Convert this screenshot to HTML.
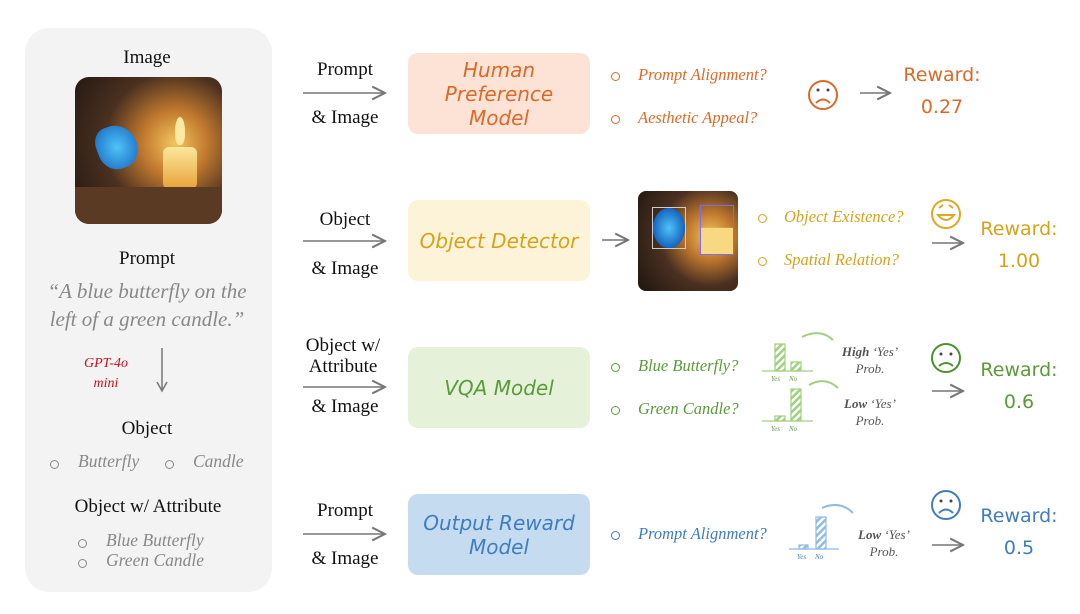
<!DOCTYPE html>
<html><head><meta charset="utf-8"><style>
body{margin:0;width:1080px;height:614px;background:#fff;position:relative;overflow:hidden;font-family:"Liberation Serif",serif}
.a{position:absolute;white-space:nowrap}
.c{transform:translateX(-50%)}
.panel{position:absolute;left:25px;top:28px;width:247px;height:564px;background:#f3f3f3;border-radius:24px}
.box{position:absolute;left:408px;width:182px;height:81px;border-radius:10px;display:flex;align-items:center;justify-content:center;text-align:center;font-family:"DejaVu Sans","Liberation Sans",sans-serif;font-style:italic;font-size:20px;line-height:24px}
.in{font-size:19px;color:#111}
.it{font-style:italic;font-size:16.5px}
.rw{font-family:"DejaVu Sans",sans-serif;font-size:19px}
.gray{color:#888;font-style:italic;font-size:18px}
.dot{position:absolute;width:7px;height:7px;border:1.3px solid currentColor;border-radius:50%}
</style></head><body>
<div class="panel"></div>
<div class="a c in" style="left:147px;top:47px">Image</div>
<div class="a" style="left:75px;top:77px;width:147px;height:147px;border-radius:14px;background:radial-gradient(circle at 68% 45%,#f3c560 0,#c27a2e 25%,#4a3020 55%,#1e1510 100%)">
 <div class="a" style="left:88px;top:70px;width:34px;height:42px;background:linear-gradient(#fbe79a,#e8a23a);border-radius:6px"></div>
 <div class="a" style="left:100px;top:40px;width:10px;height:28px;background:#ffe9a0;border-radius:50% 50% 40% 40%"></div>
 <div class="a" style="left:22px;top:48px;width:40px;height:44px;background:radial-gradient(#4fc3f7,#1565c0);border-radius:40% 60% 50% 50%;transform:rotate(-20deg)"></div>
 <div class="a" style="left:0;top:110px;width:147px;height:37px;background:#5a3a22;border-radius:0 0 14px 14px"></div>
</div>
<div class="a c in" style="left:147px;top:248px">Prompt</div>
<div class="a c gray" style="left:147px;top:279px;font-size:21px">“A blue butterfly on the</div>
<div class="a c gray" style="left:147px;top:307px;font-size:21px">left of a green candle.”</div>
<div class="a c" style="left:106px;top:354px;color:#c4121f;font-style:italic;font-size:14px;text-align:center;line-height:20px">GPT-4o<br>mini</div>
<svg class="a" style="left:155px;top:348px" width="14" height="46"><line x1="7" y1="0" x2="7" y2="42" stroke="#777" stroke-width="1.5"/><path d="M2 34 L7 43 L12 34" fill="none" stroke="#777" stroke-width="1.5"/></svg>
<div class="a c in" style="left:147px;top:418px">Object</div>
<div class="dot" style="left:50px;top:460px;color:#888"></div><div class="a gray" style="left:78px;top:451px;font-size:17.5px">Butterfly</div>
<div class="dot" style="left:165px;top:460px;color:#888"></div><div class="a gray" style="left:193px;top:451px;font-size:17.5px">Candle</div>
<div class="a c in" style="left:148px;top:496px">Object w/ Attribute</div>
<div class="dot" style="left:78px;top:539px;color:#888"></div><div class="a gray" style="left:106px;top:530px;font-size:17.5px">Blue Butterfly</div>
<div class="dot" style="left:78px;top:559px;color:#888"></div><div class="a gray" style="left:106px;top:550px;font-size:17.5px">Green Candle</div>

<svg class="a" style="left:0;top:0" width="1080" height="614">
<defs><marker id="m" markerWidth="10" markerHeight="10" refX="9" refY="5" orient="auto"><path d="M1 1 L9 5 L1 9" fill="none" stroke="#777" stroke-width="1.3"/></marker>
<pattern id="pg" width="5" height="5" patternUnits="userSpaceOnUse" patternTransform="rotate(45)"><rect width="2.5" height="5" fill="#9fd07f"/></pattern>
<pattern id="pb" width="5" height="5" patternUnits="userSpaceOnUse" patternTransform="rotate(45)"><rect width="2.5" height="5" fill="#8fbbe6"/></pattern></defs>
<g stroke="#777" stroke-width="1.6" marker-end="url(#m)">
<line x1="303" y1="93" x2="385" y2="93"/><line x1="303" y1="241" x2="385" y2="241"/><line x1="303" y1="387" x2="385" y2="387"/><line x1="303" y1="534" x2="385" y2="534"/>
<line x1="602" y1="240" x2="628" y2="240"/><line x1="860" y1="93" x2="890" y2="93"/><line x1="932" y1="243" x2="963" y2="243"/><line x1="932" y1="391" x2="963" y2="391"/><line x1="932" y1="545" x2="963" y2="545"/>
</g>
<g stroke="#9fd07f" stroke-width="1.2">
<rect x="775" y="344" width="10" height="27" fill="url(#pg)"/><rect x="791" y="362" width="10" height="9" fill="url(#pg)"/><line x1="762" y1="371" x2="813" y2="371"/>
<rect x="775" y="416" width="10" height="5" fill="url(#pg)"/><rect x="791" y="389" width="10" height="32" fill="url(#pg)"/><line x1="762" y1="421" x2="813" y2="421"/>
<path d="M802 337 Q820 328 833 340" fill="none" stroke-width="2"/><path d="M809 385 Q825 376 838 388" fill="none" stroke-width="2"/>
</g>
<g font-size="7" fill="#6a9a4a" font-style="italic" font-family="Liberation Serif"><text x="771" y="381">Yes</text><text x="789" y="381">No</text><text x="771" y="431">Yes</text><text x="789" y="431">No</text></g>
<g stroke="#8fbbe6" stroke-width="1.2">
<rect x="799" y="545" width="9" height="4" fill="url(#pb)"/><rect x="816" y="517" width="10" height="32" fill="url(#pb)"/><line x1="789" y1="549" x2="839" y2="549"/>
<path d="M822 508 Q840 500 853 513" fill="none" stroke-width="2"/></g>
<g font-size="7" fill="#3f7cc0" font-style="italic" font-family="Liberation Serif"><text x="797" y="559">Yes</text><text x="815" y="559">No</text></g>
<g fill="none" stroke-width="2">
<g stroke="#d96a2a"><circle cx="823" cy="95" r="14"/><path d="M816 103 Q823 96 830 103"/></g>
<g stroke="#e0a820"><circle cx="946" cy="214" r="14"/><path d="M938 215 Q946 225 954 215 Z"/><path d="M939 208 l4 -3 M953 208 l-4 -3"/></g>
<g stroke="#4a9030"><circle cx="946" cy="358" r="14"/><path d="M939 366 Q946 360 953 366"/></g>
<g stroke="#3f7cc0"><circle cx="946" cy="505" r="14"/><path d="M939 513 Q946 506 953 513"/></g>
</g>
<g fill="#444"><circle cx="818" cy="90" r="1.5"/><circle cx="828" cy="90" r="1.5"/><circle cx="941" cy="354" r="1.5"/><circle cx="951" cy="354" r="1.5"/><circle cx="941" cy="501" r="1.5"/><circle cx="951" cy="501" r="1.5"/></g>
</svg>

<div class="box" style="top:53px;background:#fde3d5;color:#d96a2a">Human<br>Preference<br>Model</div>
<div class="box" style="top:200px;background:#fdf3d8;color:#d4a31a">Object Detector</div>
<div class="box" style="top:347px;background:#e5f1d9;color:#5a9a3a">VQA Model</div>
<div class="box" style="top:494px;background:#c5dcf0;color:#3f7cc0">Output Reward<br>Model</div>

<div class="a c in" style="left:345px;top:59px">Prompt</div><div class="a c in" style="left:345px;top:107px">&amp; Image</div>
<div class="a c in" style="left:345px;top:209px">Object</div><div class="a c in" style="left:345px;top:258px">&amp; Image</div>
<div class="a c in" style="left:343px;top:335px">Object w/</div><div class="a c in" style="left:343px;top:356px">Attribute</div><div class="a c in" style="left:345px;top:396px">&amp; Image</div>
<div class="a c in" style="left:345px;top:500px">Prompt</div><div class="a c in" style="left:345px;top:548px">&amp; Image</div>

<div style="color:#d96a2a"><div class="dot" style="left:611px;top:72px"></div><div class="a it" style="left:638px;top:65px">Prompt Alignment?</div><div class="dot" style="left:611px;top:115px"></div><div class="a it" style="left:638px;top:108px">Aesthetic Appeal?</div>
<div class="a c rw" style="left:942px;top:64px">Reward:</div><div class="a c rw" style="left:942px;top:96px">0.27</div></div>

<div class="a" style="left:638px;top:191px;width:100px;height:100px;border-radius:8px;background:radial-gradient(circle at 72% 45%,#f3c560 0,#c27a2e 25%,#4a3020 55%,#1e1510 100%)">
<div class="a" style="left:14px;top:16px;width:32px;height:40px;border:1px solid #ccc;background:radial-gradient(#4fc3f7,#1565c0 70%,transparent 72%)"></div>
<div class="a" style="left:62px;top:14px;width:32px;height:48px;border:1px solid #7a6ef0;background:linear-gradient(transparent 45%,#f8d880 46%)"></div></div>
<div style="color:#d4a31a"><div class="dot" style="left:758px;top:214px"></div><div class="a it" style="left:784px;top:207px">Object Existence?</div><div class="dot" style="left:758px;top:257px"></div><div class="a it" style="left:784px;top:250px">Spatial Relation?</div>
<div class="a c rw" style="left:1019px;top:218px">Reward:</div><div class="a c rw" style="left:1019px;top:250px">1.00</div></div>

<div style="color:#5a9a3a"><div class="dot" style="left:611px;top:363px"></div><div class="a it" style="left:638px;top:356px">Blue Butterfly?</div><div class="dot" style="left:611px;top:406px"></div><div class="a it" style="left:638px;top:399px">Green Candle?</div>
<div class="a c rw" style="left:1019px;top:359px">Reward:</div><div class="a c rw" style="left:1019px;top:391px">0.6</div></div>
<div class="a c" style="left:870px;top:343px;color:#555;font-style:italic;font-size:13px;text-align:center;line-height:17px"><b>High</b> ‘Yes’<br>Prob.</div>
<div class="a c" style="left:870px;top:395px;color:#555;font-style:italic;font-size:13px;text-align:center;line-height:17px"><b>Low</b> ‘Yes’<br>Prob.</div>

<div style="color:#3f7cc0"><div class="dot" style="left:611px;top:531px"></div><div class="a it" style="left:638px;top:524px">Prompt Alignment?</div>
<div class="a c rw" style="left:1019px;top:505px">Reward:</div><div class="a c rw" style="left:1019px;top:537px">0.5</div></div>
<div class="a c" style="left:884px;top:526px;color:#555;font-style:italic;font-size:13px;text-align:center;line-height:17px"><b>Low</b> ‘Yes’<br>Prob.</div>
</body></html>
